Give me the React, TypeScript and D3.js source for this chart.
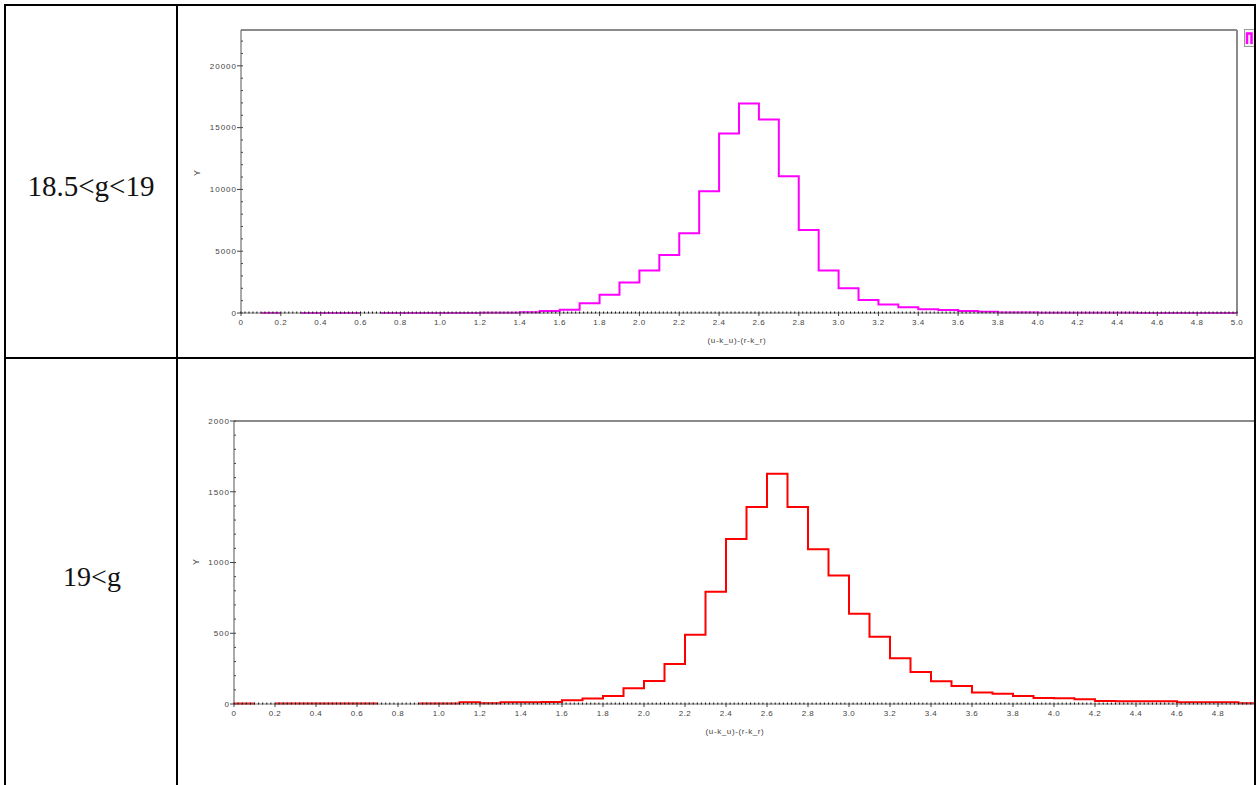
import React from 'react';
import * as d3 from 'd3';

// ---- data ----
const BIN_WIDTH = 0.1;
const ROW_LABELS = ['18.5<g<19', '19<g'];
const X_TITLE = '(u-k_u)-(r-k_r)';
const Y_TITLE = 'Y';
const X_TICKS = [0, 0.2, 0.4, 0.6, 0.8, 1.0, 1.2, 1.4, 1.6, 1.8, 2.0, 2.2, 2.4, 2.6, 2.8, 3.0, 3.2, 3.4, 3.6, 3.8, 4.0, 4.2, 4.4, 4.6, 4.8, 5.0];
const TOP_Y_TICKS = [0, 5000, 10000, 15000, 20000];
const BOT_Y_TICKS = [0, 500, 1000, 1500, 2000];

// counts per 0.1 bin, from 0.0 to 5.0 (0 = empty bin, not drawn)
const COUNTS_18_5_19 = [
  0, 5, 0, 5, 5, 5, 0, 5, 5, 5,
  10, 10, 15, 30, 60, 170, 260, 780, 1480, 2460,
  3430, 4700, 6450, 9850, 14520, 16950, 15650, 11070, 6720, 3430,
  2000, 1050, 680, 460, 300, 240, 160, 110, 50, 40,
  30, 25, 20, 15, 12, 10, 8, 6, 5, 5,
];
const COUNTS_19 = [
  3, 0, 3, 3, 3, 3, 3, 0, 0, 3,
  3, 12, 5, 12, 12, 14, 26, 38, 57, 111,
  163, 283, 490, 794, 1166, 1392, 1628, 1392, 1093, 909,
  638, 476, 323, 226, 160, 128, 82, 73, 57, 42,
  40, 33, 22, 19, 19, 19, 12, 12, 12, 5,
];

const CLIP_RIGHT = 1254;

type ChartProps = {
  left: number; right: number; top: number; bottom: number;
  xMax: number; yMax: number; yTicks: number[]; yMinor: number;
  counts: number[]; color: string;
  yTitlePos: [number, number]; xTitlePos: [number, number];
  showFrameRight: boolean; legend?: boolean;
};

const fontAxis = '"Liberation Sans", Arial, sans-serif';

function Histogram(p: ChartProps) {
  const x = d3.scaleLinear().domain([0, p.xMax]).range([p.left, p.right]);
  const y = d3.scaleLinear().domain([0, p.yMax]).range([p.bottom, p.top]);

  // build runs of non-empty bins
  const runs: [number, number][][] = [];
  let cur: [number, number][] | null = null;
  p.counts.forEach((c, i) => {
    if (c > 0) {
      if (!cur) { cur = []; runs.push(cur); }
      cur.push([i * BIN_WIDTH, c], [(i + 1) * BIN_WIDTH, c]);
    } else {
      cur = null;
    }
  });
  const line = d3.line<[number, number]>().x(d => x(d[0])).y(d => y(d[1]));

  const minorX = d3.range(0, Math.round(p.xMax / 0.02) + 1).map(i => +(i * 0.02).toFixed(2));
  const minorY = d3.range(0, Math.floor(p.yMax / p.yMinor) + 1).map(i => i * p.yMinor);
  const visibleXTicks = X_TICKS.filter(v => x(v) + 8 < CLIP_RIGHT);

  return (
    <g>
      {/* frame */}
      <line x1={p.left} x2={p.right} y1={p.top} y2={p.top} stroke="#8a8a8a" strokeWidth={2} />
      {p.showFrameRight && <line x1={p.right} x2={p.right} y1={p.top} y2={p.bottom} stroke="#8a8a8a" strokeWidth={2} />}
      <line x1={p.left} x2={p.left} y1={p.top} y2={p.bottom} stroke="#555" strokeWidth={1} />
      {/* y ticks */}
      {minorY.map(v => (
        <line key={'my' + v} x1={p.left} x2={p.left + 2} y1={y(v)} y2={y(v)} stroke="#444" strokeWidth={1} />
      ))}
      {p.yTicks.map(v => (
        <g key={'y' + v}>
          <line x1={p.left - 4} x2={p.left} y1={y(v)} y2={y(v)} stroke="#444" strokeWidth={1} />
          <text x={p.left - 4} y={y(v)} dy="0.35em" textAnchor="end" fontFamily={fontAxis} fontSize={8} letterSpacing={1} fill="#444">{v}</text>
        </g>
      ))}
      {/* histogram */}
      {runs.map((r, i) => (
        <path key={'h' + i} d={line(r) || ''} fill="none" stroke={p.color} strokeWidth={2} />
      ))}
      {/* x axis */}
      <line x1={p.left} x2={p.right} y1={p.bottom} y2={p.bottom} stroke="#777" strokeWidth={1} />
      {minorX.map(v => (
        <line key={'mx' + v} x1={x(v)} x2={x(v)} y1={p.bottom - 1.5} y2={p.bottom + 0.5} stroke="#111" strokeWidth={1} />
      ))}
      {X_TICKS.map(v => (
        <line key={'xt' + v} x1={x(v)} x2={x(v)} y1={p.bottom} y2={p.bottom + 3} stroke="#444" strokeWidth={1} />
      ))}
      {visibleXTicks.map(v => (
        <text key={'xl' + v} x={x(v)} y={p.bottom + 11} dy="0.1em" textAnchor="middle" fontFamily={fontAxis} fontSize={8} letterSpacing={0.5} fill="#444">{v === 0 ? '0' : v.toFixed(1)}</text>
      ))}
      {/* titles */}
      <text x={p.xTitlePos[0]} y={p.xTitlePos[1]} textAnchor="middle" fontFamily={fontAxis} fontSize={8} letterSpacing={0.6} fill="#444">{X_TITLE}</text>
      <text transform={`translate(${p.yTitlePos[0]},${p.yTitlePos[1]}) rotate(-90)`} textAnchor="middle" fontFamily={fontAxis} fontSize={9} fill="#444">{Y_TITLE}</text>
      {p.legend && (
        <g>
          <rect x={1244.5} y={29.5} width={20} height={17} fill="#f4f4f4" stroke="#9a9a9a" strokeWidth={1} />
          <path d="M1247,44 V33.5 H1251.5 V44" fill="none" stroke={p.color} strokeWidth={2.5} />
        </g>
      )}
    </g>
  );
}

export default function App() {
  const W = 1256, H = 785;
  return (
    <svg width={W} height={H} style={{ position: 'absolute', left: 0, top: 0, background: '#fff' }}>
      <defs>
        <clipPath id="cellclip">
          <rect x={178} y={6} width={CLIP_RIGHT - 178} height={H} />
        </clipPath>
      </defs>
      <rect x={0} y={0} width={W} height={H} fill="#fff" />
      <g clipPath="url(#cellclip)">
        <Histogram left={241} right={1237} top={30} bottom={313} xMax={5} yMax={22900}
          yTicks={TOP_Y_TICKS} yMinor={1000} counts={COUNTS_18_5_19} color="#ff00ff"
          yTitlePos={[200, 173]} xTitlePos={[737, 343]} showFrameRight={true} legend={true} />
        <Histogram left={234} right={1259} top={421} bottom={704} xMax={5} yMax={2000}
          yTicks={BOT_Y_TICKS} yMinor={100} counts={COUNTS_19} color="#ff0000"
          yTitlePos={[199, 562]} xTitlePos={[735, 734]} showFrameRight={true} />
      </g>
      {/* table grid */}
      <g stroke="#000" strokeWidth={2}>
        <line x1={5} x2={5} y1={4} y2={H} />
        <line x1={177} x2={177} y1={4} y2={H} />
        <line x1={1255} x2={1255} y1={4} y2={H} />
        <line x1={4} x2={1256} y1={5} y2={5} />
        <line x1={4} x2={1256} y1={358} y2={358} />
      </g>
      <text x={91} y={186} dy="0.35em" textAnchor="middle" fontFamily='"Liberation Serif", "Times New Roman", serif' fontSize={29} fill="#111">{ROW_LABELS[0]}</text>
      <text x={92} y={576} dy="0.35em" textAnchor="middle" fontFamily='"Liberation Serif", "Times New Roman", serif' fontSize={28} fill="#111">{ROW_LABELS[1]}</text>
    </svg>
  );
}
